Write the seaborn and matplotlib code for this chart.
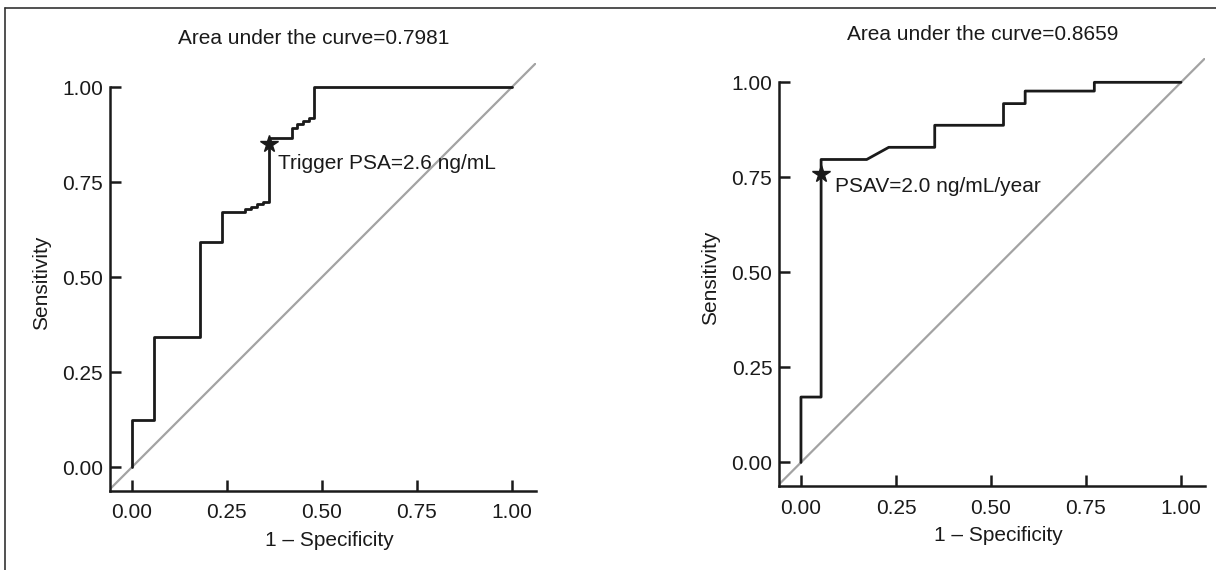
import matplotlib
matplotlib.use("Agg")
import matplotlib.pyplot as plt
import seaborn as sns
from matplotlib.lines import Line2D

# left panel: trigger PSA ROC curve (vertices of the step curve)
fpr_psa = [0.0, 0.0, 0.059, 0.059, 0.180, 0.180, 0.237, 0.237, 0.298, 0.298,
           0.314, 0.314, 0.330, 0.330, 0.346, 0.346, 0.361, 0.361, 0.422, 0.422,
           0.435, 0.435, 0.450, 0.450, 0.466, 0.466, 0.481, 0.481, 1.0]
tpr_psa = [0.0, 0.126, 0.126, 0.344, 0.344, 0.593, 0.593, 0.673, 0.673, 0.680,
           0.680, 0.686, 0.686, 0.692, 0.692, 0.698, 0.698, 0.868, 0.868, 0.893,
           0.893, 0.903, 0.903, 0.911, 0.911, 0.918, 0.918, 1.0, 1.0]
cut_psa = (0.361, 0.850)
auc_psa = "0.7981"
note_psa = "Trigger PSA=2.6 ng/mL"

# right panel: PSA velocity ROC curve
fpr_psav = [0.0, 0.0, 0.053, 0.053, 0.173, 0.231, 0.352, 0.352, 0.533, 0.533,
            0.590, 0.590, 0.772, 0.772, 1.0]
tpr_psav = [0.0, 0.172, 0.172, 0.797, 0.797, 0.829, 0.829, 0.887, 0.887, 0.944,
            0.944, 0.977, 0.977, 1.0, 1.0]
cut_psav = (0.053, 0.758)
auc_psav = "0.8659"
note_psav = "PSAV=2.0 ng/mL/year"

ticks = [0.0, 0.25, 0.5, 0.75, 1.0]
tick_labels = ["0.00", "0.25", "0.50", "0.75", "1.00"]

sns.set_theme(style="ticks")
plt.rcParams['font.family'] = ['Liberation Sans', 'DejaVu Sans']

FS = 15
INK = "#1a1a1a"

fig = plt.figure(figsize=(12.16, 5.70), dpi=100)
W, H = 1216, 570


def roc_panel(ax, fpr, tpr, cut, auc, note, note_xy):
    ax.set_xlim(-0.057, 1.064)
    ax.set_ylim(-0.062, 1.064)
    # reference diagonal
    sns.lineplot(x=[-0.1, 1.2], y=[-0.1, 1.2], color="#a3a3a3", lw=1.6, ax=ax)
    sns.lineplot(x=fpr, y=tpr, sort=False, estimator=None, color=INK, lw=2.0, ax=ax)
    ax.plot(cut[0], cut[1], marker="*", ms=13, color=INK, zorder=5)
    ax.text(note_xy[0], note_xy[1], note, fontsize=FS, color=INK, ha="left", va="center")

    ax.set_xticks(ticks, tick_labels)
    ax.set_yticks(ticks, tick_labels)
    for s in ["top", "right"]:
        ax.spines[s].set_visible(False)
    for s in ["left", "bottom"]:
        ax.spines[s].set_linewidth(1.8)
        ax.spines[s].set_color(INK)
    ax.spines["left"].set_bounds(-0.062, 1.0)
    ax.tick_params(direction="in", length=8, width=1.8, color=INK,
                   labelsize=FS, labelcolor=INK)
    ax.tick_params(axis="x", pad=9)
    ax.tick_params(axis="y", pad=5)

    ax.set_xlabel("1 \u2013 Specificity", fontsize=FS, color=INK)
    ax.set_ylabel("Sensitivity", fontsize=FS, color=INK)
    ax.xaxis.set_label_coords(0.514, -0.093)
    ax.yaxis.set_label_coords(-0.138, 0.487)
    ax.text(0.477, 1 + 24 / 428, f"Area under the curve={auc}", transform=ax.transAxes,
            fontsize=FS, color=INK, ha="center", va="center")
    ax.set_facecolor("white")


ax_l = fig.add_axes([110 / W, (H - 491) / H, 426 / W, 428 / H])
ax_r = fig.add_axes([779.3 / W, (H - 486) / H, 426 / W, 428 / H])

roc_panel(ax_l, fpr_psa, tpr_psa, cut_psa, auc_psa, note_psa, (0.386, 0.800))
roc_panel(ax_r, fpr_psav, tpr_psav, cut_psav, auc_psav, note_psav, (0.090, 0.726))

# frame lines at the top and left edge of the figure
fig.add_artist(Line2D([5 / W, 5 / W], [0, 1 - 8 / H], color="#333333", lw=1.2))
fig.add_artist(Line2D([5 / W, 1], [1 - 8 / H, 1 - 8 / H], color="#333333", lw=1.2))

fig.savefig("out.png", dpi=100, facecolor="white")
